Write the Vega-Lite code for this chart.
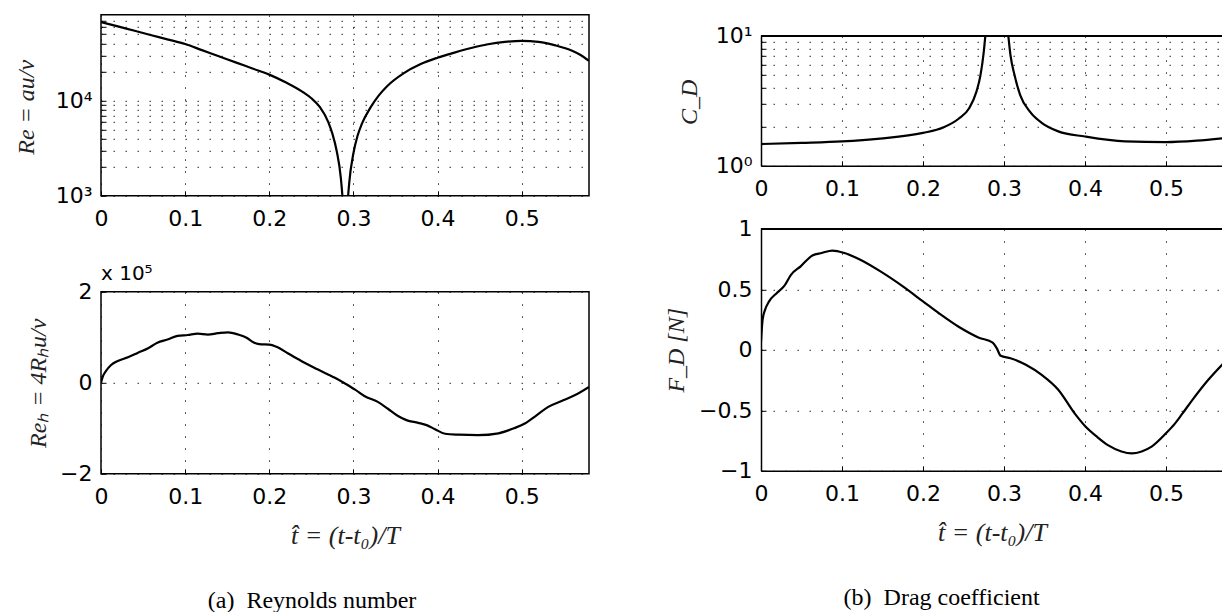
{
  "$schema": "https://vega.github.io/schema/vega-lite/v6.json",
  "padding": {"left": 13, "top": 7.8, "right": 0, "bottom": 0},
  "background": "white",
  "datasets": {
    "re": [
      {"t": 0, "Re": 67200}, {"t": 0.02, "Re": 60400}, {"t": 0.04, "Re": 54300}, {"t": 0.06, "Re": 48800},
      {"t": 0.08, "Re": 43900}, {"t": 0.1, "Re": 39400}, {"t": 0.12, "Re": 34000}, {"t": 0.14, "Re": 29300},
      {"t": 0.16, "Re": 25300}, {"t": 0.18, "Re": 21800}, {"t": 0.2, "Re": 18800}, {"t": 0.22, "Re": 15500},
      {"t": 0.24, "Re": 12300}, {"t": 0.25, "Re": 10600}, {"t": 0.26, "Re": 8600}, {"t": 0.27, "Re": 6000},
      {"t": 0.275, "Re": 4500}, {"t": 0.28, "Re": 3000}, {"t": 0.285, "Re": 1550}, {"t": 0.2875, "Re": 810},
      {"t": 0.289, "Re": 380}, {"t": 0.2903, "Re": 40}, {"t": 0.2915, "Re": 350}, {"t": 0.293, "Re": 780},
      {"t": 0.295, "Re": 1360}, {"t": 0.3, "Re": 2800}, {"t": 0.305, "Re": 4300}, {"t": 0.31, "Re": 5700},
      {"t": 0.32, "Re": 8400}, {"t": 0.33, "Re": 11300}, {"t": 0.34, "Re": 14200}, {"t": 0.36, "Re": 19500},
      {"t": 0.38, "Re": 24300}, {"t": 0.4, "Re": 28300}, {"t": 0.42, "Re": 32000}, {"t": 0.44, "Re": 35800},
      {"t": 0.46, "Re": 39200}, {"t": 0.48, "Re": 41500}, {"t": 0.5, "Re": 42500}, {"t": 0.52, "Re": 41500},
      {"t": 0.54, "Re": 38200}, {"t": 0.56, "Re": 33500}, {"t": 0.57, "Re": 30200}, {"t": 0.58, "Re": 26200}
    ],
    "reh": [
      {"t": 0, "Reh": 0}, {"t": 0.002, "Reh": 13000}, {"t": 0.006, "Reh": 26000}, {"t": 0.012, "Reh": 39000},
      {"t": 0.02, "Reh": 48000}, {"t": 0.032, "Reh": 56000}, {"t": 0.044, "Reh": 66000}, {"t": 0.056, "Reh": 76000},
      {"t": 0.067, "Reh": 88000}, {"t": 0.079, "Reh": 95000}, {"t": 0.091, "Reh": 103000}, {"t": 0.103, "Reh": 105000},
      {"t": 0.115, "Reh": 108000}, {"t": 0.127, "Reh": 106000}, {"t": 0.139, "Reh": 109000}, {"t": 0.151, "Reh": 111000},
      {"t": 0.163, "Reh": 106000}, {"t": 0.173, "Reh": 99000}, {"t": 0.181, "Reh": 89000}, {"t": 0.188, "Reh": 85000},
      {"t": 0.2, "Reh": 84000}, {"t": 0.21, "Reh": 78000}, {"t": 0.222, "Reh": 65000}, {"t": 0.238, "Reh": 48000},
      {"t": 0.258, "Reh": 29000}, {"t": 0.278, "Reh": 11000}, {"t": 0.29, "Reh": -1500}, {"t": 0.302, "Reh": -15000},
      {"t": 0.313, "Reh": -29000}, {"t": 0.329, "Reh": -42000}, {"t": 0.341, "Reh": -57000}, {"t": 0.353, "Reh": -73000},
      {"t": 0.363, "Reh": -82000}, {"t": 0.377, "Reh": -88000}, {"t": 0.387, "Reh": -93000}, {"t": 0.397, "Reh": -102000},
      {"t": 0.409, "Reh": -112000}, {"t": 0.425, "Reh": -114000}, {"t": 0.448, "Reh": -115000}, {"t": 0.4725, "Reh": -111000},
      {"t": 0.4907, "Reh": -100000}, {"t": 0.5043, "Reh": -89000}, {"t": 0.518, "Reh": -71000}, {"t": 0.5316, "Reh": -53000},
      {"t": 0.55, "Reh": -38000}, {"t": 0.5635, "Reh": -27000}, {"t": 0.58, "Reh": -9000}
    ],
    "cd": [
      {"t": 0, "CD": 1.47}, {"t": 0.05, "CD": 1.5}, {"t": 0.1, "CD": 1.54}, {"t": 0.147, "CD": 1.62},
      {"t": 0.2, "CD": 1.79}, {"t": 0.225, "CD": 1.97}, {"t": 0.244, "CD": 2.3}, {"t": 0.257, "CD": 2.77},
      {"t": 0.266, "CD": 3.72}, {"t": 0.271, "CD": 4.98}, {"t": 0.275, "CD": 7.5}, {"t": 0.277, "CD": 10},
      {"t": 0.28, "CD": 14}, {"t": 0.285, "CD": 40}, {"t": 0.29, "CD": 300}, {"t": 0.295, "CD": 60},
      {"t": 0.3, "CD": 22}, {"t": 0.305, "CD": 10.5}, {"t": 0.308, "CD": 7.1}, {"t": 0.313, "CD": 5.0},
      {"t": 0.32, "CD": 3.5}, {"t": 0.332, "CD": 2.61}, {"t": 0.347, "CD": 2.13}, {"t": 0.367, "CD": 1.84},
      {"t": 0.4, "CD": 1.68}, {"t": 0.4495, "CD": 1.54}, {"t": 0.5, "CD": 1.52}, {"t": 0.538, "CD": 1.56},
      {"t": 0.5705, "CD": 1.63}
    ],
    "fd": [
      {"t": 0, "FD": 0.07}, {"t": 0.002, "FD": 0.25}, {"t": 0.005, "FD": 0.33}, {"t": 0.01, "FD": 0.4},
      {"t": 0.0196, "FD": 0.47}, {"t": 0.029, "FD": 0.53}, {"t": 0.037, "FD": 0.62}, {"t": 0.049, "FD": 0.69},
      {"t": 0.0635, "FD": 0.78}, {"t": 0.075, "FD": 0.8}, {"t": 0.088, "FD": 0.82}, {"t": 0.103, "FD": 0.8},
      {"t": 0.122, "FD": 0.746}, {"t": 0.147, "FD": 0.65}, {"t": 0.176, "FD": 0.52}, {"t": 0.2, "FD": 0.4},
      {"t": 0.22, "FD": 0.3}, {"t": 0.244, "FD": 0.19}, {"t": 0.269, "FD": 0.1}, {"t": 0.286, "FD": 0.06},
      {"t": 0.291, "FD": 0.014}, {"t": 0.296, "FD": -0.05}, {"t": 0.308, "FD": -0.07}, {"t": 0.327, "FD": -0.124},
      {"t": 0.347, "FD": -0.21}, {"t": 0.367, "FD": -0.33}, {"t": 0.3877, "FD": -0.53}, {"t": 0.4, "FD": -0.63},
      {"t": 0.415, "FD": -0.72}, {"t": 0.4288, "FD": -0.79}, {"t": 0.445, "FD": -0.84}, {"t": 0.4576, "FD": -0.856},
      {"t": 0.47, "FD": -0.84}, {"t": 0.4823, "FD": -0.8}, {"t": 0.5, "FD": -0.69}, {"t": 0.511, "FD": -0.61},
      {"t": 0.52, "FD": -0.53}, {"t": 0.532, "FD": -0.42}, {"t": 0.552, "FD": -0.25}, {"t": 0.5705, "FD": -0.115}
    ]
  },
  "hconcat": [
    {
      "spacing": 32,
      "title": {"text": "(a)\u00a0 Reynolds number", "orient": "bottom", "anchor": "middle", "offset": 39.7, "dx": 10.6, "font": "Liberation Serif", "fontSize": 24, "fontWeight": "normal", "color": "black"},
      "vconcat": [
        {
          "width": 488, "height": 181,
          "data": {"name": "re"},
          "mark": {"type": "line", "clip": true, "interpolate": "monotone"},
          "encoding": {
            "x": {"field": "t", "type": "quantitative", "scale": {"domain": [0, 0.58], "nice": false, "zero": false},
                  "axis": {"values": [0, 0.1, 0.2, 0.3, 0.4, 0.5], "format": "~g", "title": null}},
            "y": {"field": "Re", "type": "quantitative", "scale": {"type": "log", "domain": [1000, 80000], "nice": false},
                  "axis": {"values": [1000, 2000, 3000, 4000, 5000, 6000, 7000, 8000, 9000, 10000, 20000, 30000, 40000, 50000, 60000, 70000],
                           "labelExpr": "datum.value == 1000 ? '10³' : datum.value == 10000 ? '10⁴' : ''",
                           "title": "Re = au/ν", "titleX": -75, "titleY": 92, "titleBaseline": "middle", "labelPadding": 14}}
          }
        },
        {
          "width": 488, "height": 182,
          "title": {"text": "x 10⁵", "orient": "top", "anchor": "start", "frame": "group", "offset": -2.9, "font": "DejaVu Sans", "fontSize": 20, "fontWeight": "normal", "color": "black"},
          "data": {"name": "reh"},
          "mark": {"type": "line", "clip": true, "interpolate": "monotone"},
          "encoding": {
            "x": {"field": "t", "type": "quantitative", "scale": {"domain": [0, 0.58], "nice": false, "zero": false},
                  "axis": {"values": [0, 0.1, 0.2, 0.3, 0.4, 0.5], "format": "~g", "title": "t̂ = (t-t₀)/T", "titleY": 62, "titleBaseline": "middle", "titleFontSize": 26}},
            "y": {"field": "Reh", "type": "quantitative", "scale": {"domain": [-200000, 200000], "nice": false, "zero": false},
                  "axis": {"values": [-200000, 0, 200000],
                           "labelExpr": "datum.value > 0 ? '2' : datum.value < 0 ? '−2' : '0'",
                           "title": "Reₕ = 4Rₕu/ν", "titleX": -63, "titleY": 91, "titleBaseline": "middle", "labelPadding": 14}}
          }
        }
      ]
    },
    {
      "spacing": 0,
      "title": {"text": "(b)\u00a0 Drag coefficient", "orient": "bottom", "anchor": "middle", "offset": 40.7, "dx": -2.5, "font": "Liberation Serif", "fontSize": 24, "fontWeight": "normal", "color": "black"},
      "vconcat": [
        {
          "width": 462, "height": 10,
          "view": {"stroke": null},
          "data": {"values": []},
          "mark": "point"
        },
        {
          "spacing": 18,
          "vconcat": [
            {
              "width": 462, "height": 130,
              "view": {"stroke": null},
              "data": {"name": "cd"},
              "layer": [
                {
                  "mark": {"type": "line", "clip": true, "interpolate": "monotone"},
                  "encoding": {
                    "x": {"field": "t", "type": "quantitative", "scale": {"domain": [0, 0.5704], "nice": false, "zero": false},
                          "axis": {"values": [0, 0.1, 0.2, 0.3, 0.4, 0.5], "format": "~g", "title": null, "domain": true}},
                    "y": {"field": "CD", "type": "quantitative", "scale": {"type": "log", "domain": [1, 10], "nice": false},
                          "axis": {"values": [1, 2, 3, 4, 5, 6, 7, 8, 9, 10],
                                   "labelExpr": "datum.value == 1 ? '10⁰' : datum.value == 10 ? '10¹' : ''",
                                   "title": "C_D", "titleX": -71, "titleY": 66, "titleBaseline": "middle", "labelPadding": 14, "domain": true}}
                  }
                },
                {
                  "mark": {"type": "rule", "color": "black", "strokeWidth": 1.5},
                  "encoding": {"y": {"datum": 10}}
                }
              ]
            },
            {
              "width": 462, "height": 242,
              "view": {"stroke": null},
              "data": {"name": "fd"},
              "layer": [
                {
                  "mark": {"type": "line", "clip": true, "interpolate": "monotone"},
                  "encoding": {
                    "x": {"field": "t", "type": "quantitative", "scale": {"domain": [0, 0.5704], "nice": false, "zero": false},
                          "axis": {"values": [0, 0.1, 0.2, 0.3, 0.4, 0.5], "format": "~g", "title": "t̂ = (t-t₀)/T", "titleY": 62, "titleBaseline": "middle", "titleFontSize": 26, "domain": true}},
                    "y": {"field": "FD", "type": "quantitative", "scale": {"domain": [-1, 1], "nice": false, "zero": false},
                          "axis": {"values": [-1, -0.5, 0, 0.5, 1], "format": "~g",
                                   "title": "F_D [N]", "titleX": -84.5, "titleY": 121, "titleBaseline": "middle", "labelPadding": 14, "domain": true}}
                  }
                },
                {
                  "mark": {"type": "rule", "color": "black", "strokeWidth": 1.5},
                  "encoding": {"y": {"datum": 1}}
                }
              ]
            }
          ]
        }
      ]
    }
  ],
  "spacing": 74,
  "config": {
    "view": {"stroke": "black", "strokeWidth": 1.5},
    "axis": {
      "labelFont": "DejaVu Sans", "labelFontSize": 22, "labelColor": "black", "labelFlush": false, "labelOverlap": false,
      "titleFont": "Liberation Serif", "titleFontStyle": "italic", "titleFontWeight": "normal", "titleFontSize": 24, "titleColor": "#222",
      "domain": false, "domainColor": "black", "domainWidth": 1.5,
      "ticks": true, "tickColor": "black", "tickSize": -5, "tickWidth": 1,
      "grid": true, "gridColor": "#111", "gridDash": [1.5, 10.5], "gridWidth": 1, "gridOpacity": 0.9
    },
    "axisX": {"labelPadding": 18},
    "line": {"color": "black", "strokeWidth": 2.2},
    "title": {"color": "black"}
  }
}
